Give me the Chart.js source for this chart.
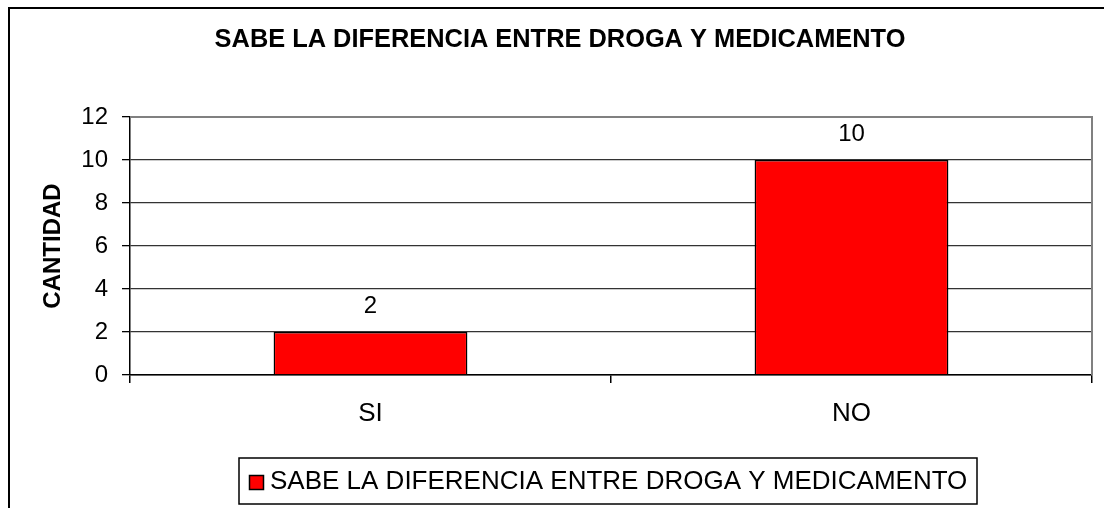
<!DOCTYPE html>
<html>
<head>
<meta charset="utf-8">
<script src="https://cdn.jsdelivr.net/npm/chart.js@4/dist/chart.umd.min.js"></script>
<style>
  html, body { margin: 0; padding: 0; background: #fff; }
  #wrap { width: 1104px; height: 508px; position: relative; }
</style>
</head>
<body>
<div id="wrap"><canvas id="c" width="1104" height="508"></canvas></div>
<script>
const chartTitle = "SABE LA DIFERENCIA ENTRE DROGA Y MEDICAMENTO";
const categories = ["SI", "NO"];
const seriesLabel = "SABE LA DIFERENCIA ENTRE DROGA Y MEDICAMENTO";
const seriesValues = [2, 10];
const yAxisTitle = "CANTIDAD";
const yTicks = [0, 2, 4, 6, 8, 10, 12];

const FONT = "'Liberation Sans', Arial, sans-serif";

const framePlugin = {
  id: 'frame',
  beforeDraw(chart) {
    const ctx = chart.ctx;
    ctx.save();
    ctx.fillStyle = '#fff';
    ctx.fillRect(0, 0, chart.width, chart.height);
    ctx.strokeStyle = '#000';
    ctx.lineWidth = 2;
    ctx.strokeRect(9, 8, chart.width + 20, chart.height + 20);
    ctx.restore();
  },
  afterDraw(chart) {
    const ctx = chart.ctx;
    const a = chart.chartArea;
    ctx.save();
    // plot area border (top and right) in gray
    ctx.strokeStyle = '#808080';
    ctx.lineWidth = 2;
    ctx.beginPath();
    ctx.moveTo(a.left, a.top);
    ctx.lineTo(a.right, a.top);
    ctx.lineTo(a.right, a.bottom);
    ctx.stroke();
    // legend
    const lx = 239, ly = 458, lw = 738, lh = 46;
    ctx.strokeStyle = '#000';
    ctx.lineWidth = 1.5;
    ctx.strokeRect(lx, ly, lw, lh);
    const ds = chart.data.datasets[0];
    ctx.fillStyle = ds.backgroundColor;
    ctx.fillRect(249, 475, 15, 15);
    ctx.lineWidth = 1.5;
    ctx.strokeRect(249.5, 475.5, 14, 14);
    ctx.fillStyle = '#000';
    ctx.font = "26px " + FONT;
    ctx.textBaseline = 'middle';
    ctx.textAlign = 'left';
    ctx.fillText(ds.label, 270, 482);
    ctx.restore();
  },
  afterDatasetsDraw(chart) {
    const ctx = chart.ctx;
    const meta = chart.getDatasetMeta(0);
    const ds = chart.data.datasets[0];
    ctx.save();
    ctx.fillStyle = '#000';
    ctx.font = "24px " + FONT;
    ctx.textAlign = 'center';
    ctx.textBaseline = 'middle';
    meta.data.forEach((bar, i) => {
      ctx.fillText(String(ds.data[i]), bar.x, bar.y - 26);
    });
    ctx.restore();
  }
};

new Chart(document.getElementById('c'), {
  type: 'bar',
  data: {
    labels: categories,
    datasets: [{
      label: seriesLabel,
      data: seriesValues,
      backgroundColor: '#FF0000',
      borderColor: '#000',
      borderWidth: 1.5,
      categoryPercentage: 1,
      barPercentage: 0.403
    }]
  },
  options: {
    responsive: false,
    devicePixelRatio: 1,
    animation: false,
    layout: { padding: { left: 28, right: 12, top: 0, bottom: 0 } },
    plugins: {
      legend: { display: false },
      tooltip: { enabled: false },
      title: {
        display: true,
        text: chartTitle,
        color: '#000',
        font: { family: FONT, size: 25.4, weight: 'bold' },
        padding: { top: 25, bottom: 61.5 }
      }
    },
    scales: {
      x: {
        offset: true,
        grid: {
          offset: true,
          drawOnChartArea: false,
          drawTicks: true,
          tickLength: 8,
          tickColor: '#000',
          lineWidth: 1.5
        },
        border: { color: '#000', width: 1.5 },
        ticks: {
          color: '#000',
          font: { family: FONT, size: 26 },
          padding: 15,
          maxRotation: 0
        },
        afterFit(scale) { scale.height = 133; }
      },
      y: {
        min: 0,
        max: 12,
        afterBuildTicks(scale) { scale.ticks = yTicks.map(v => ({ value: v })); },
        grid: {
          color: '#333',
          lineWidth: 1.3,
          drawTicks: true,
          tickLength: 8,
          tickColor: '#000'
        },
        border: { color: '#000', width: 1.5 },
        ticks: {
          color: '#000',
          font: { family: FONT, size: 24 },
          padding: 14
        },
        title: {
          display: true,
          text: yAxisTitle,
          color: '#000',
          font: { family: FONT, size: 24, weight: 'bold' },
          padding: { top: 11, bottom: 0 }
        },
        afterFit(scale) { scale.width = 102; }
      }
    }
  },
  plugins: [framePlugin]
});
</script>
</body>
</html>
